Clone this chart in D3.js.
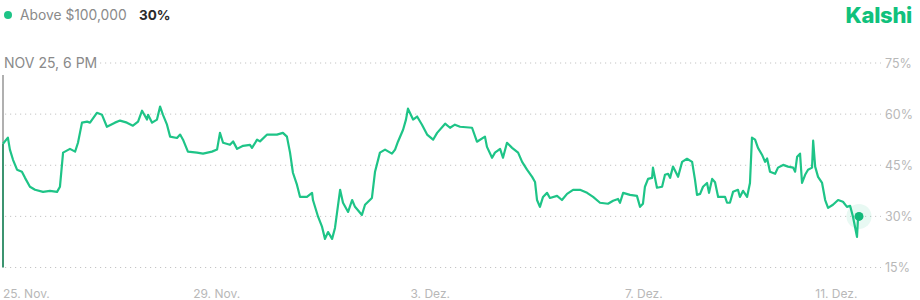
<!DOCTYPE html>
<html>
<head>
<meta charset="utf-8">
<script src="https://cdn.jsdelivr.net/npm/d3@7"></script>
<style>
  body { margin: 0; background: #fff; }
  svg { display: block; font-family: Inter, "Noto Sans", sans-serif; }
</style>
</head>
<body>
<svg id="chart" width="920" height="300"></svg>
<script>
"use strict";

// hours since 25 Nov 2024 00:00 and the price (%) at that time
const hours = [
  0, 2.2, 3.1, 4.5, 6.3, 8.5, 9.9, 12.1, 14.4, 18.0, 21.1, 24.3, 25.6, 27.0, 30.1, 32.4, 33.7, 35.5, 37.8, 39.1,
  42.2, 44.5, 46.7, 50.3, 52.6, 55.7, 58.4, 60.7, 62.5, 64.7, 65.2, 67.0, 69.2, 70.6, 71.9, 73.7, 75.1, 78.2, 79.6, 80.9,
  83.1, 87.2, 89.9, 93.9, 96.2, 97.5, 98.9, 102.0, 103.4, 105.2, 107.9, 111.0, 111.9, 114.2, 115.5, 118.7, 123.1, 125.8, 127.6, 129.0,
  130.3, 132.1, 133.5, 136.6, 138.9, 139.3, 141.6, 143.4, 144.7, 146.1, 147.9, 149.2, 151.5, 152.8, 155.1, 156.9, 158.2, 161.3, 162.7, 165.8,
  167.2, 169.4, 171.7, 174.8, 176.2, 177.5, 179.8, 181.1, 182.0, 184.3, 186.1, 188.3, 190.6, 193.3, 195.1, 198.7, 200.9, 203.1, 205.4, 210.8,
  213.0, 216.6, 217.5, 219.8, 221.1, 223.4, 224.7, 226.5, 228.8, 231.5, 233.3, 235.5, 237.8, 239.1, 240.0, 241.3, 242.7, 244.5, 245.8, 249.0,
  251.2, 253.5, 256.2, 259.3, 262.5, 265.2, 268.3, 271.9, 274.2, 276.4, 277.3, 278.7, 281.8, 284.9, 286.3, 287.6, 288.5, 289.9, 291.7, 292.1,
  293.9, 296.2, 297.5, 298.9, 299.8, 301.1, 303.4, 305.2, 307.4, 309.7, 311.0, 311.9, 313.3, 314.6, 316.4, 317.3, 318.7, 320.0, 321.4, 324.5,
  325.4, 326.7, 328.1, 330.3, 331.2, 332.6, 334.4, 335.7, 336.6, 338.0, 339.3, 341.1, 342.5, 343.4, 344.7, 347.0, 348.3, 350.6, 352.8, 355.1,
  356.0, 356.9, 358.2, 359.1, 360.5, 361.8, 363.6, 364.1, 365.0, 366.3, 368.1, 369.5, 370.8, 373.0, 375.3, 377.5, 379.3, 380.7, 382.0, 383.8,
  384.3, 384.7
];
const values = [
  51.3, 53.1, 49.6, 46.6, 43.7, 43.1, 41.3, 38.7, 37.8, 37.2, 37.5, 37.2, 38.7, 48.7, 49.8, 49.0, 51.6, 57.5, 57.8, 57.5,
  60.4, 59.8, 56.3, 57.5, 58.1, 57.5, 56.6, 57.8, 61.0, 58.4, 59.8, 57.5, 58.4, 62.2, 59.8, 56.9, 53.4, 53.0, 54.0, 52.5,
  49.0, 48.7, 48.4, 49.0, 49.6, 54.5, 51.6, 51.0, 52.0, 49.8, 50.7, 51.0, 50.1, 52.5, 52.0, 54.0, 54.0, 54.5, 53.4, 48.7,
  42.8, 39.3, 35.7, 35.7, 36.9, 34.8, 29.9, 26.9, 23.4, 25.4, 23.4, 26.6, 37.8, 34.0, 31.3, 34.8, 32.8, 30.4, 33.4, 35.4,
  43.1, 48.7, 49.6, 48.4, 49.6, 51.9, 55.4, 58.4, 61.6, 58.4, 59.3, 56.9, 54.0, 52.5, 54.5, 57.2, 56.0, 56.9, 56.3, 56.0,
  51.9, 53.4, 50.4, 47.2, 48.7, 49.8, 47.2, 51.6, 50.1, 48.7, 46.0, 43.7, 41.6, 40.1, 34.8, 32.8, 35.7, 36.9, 35.4, 36.0,
  34.8, 36.6, 37.8, 37.8, 36.9, 35.7, 34.0, 33.7, 34.6, 35.1, 34.0, 36.9, 36.3, 36.0, 32.8, 33.7, 38.7, 41.0, 41.3, 44.3,
  38.4, 38.7, 42.2, 42.5, 41.3, 44.6, 41.6, 46.0, 46.9, 46.0, 40.7, 36.3, 36.6, 38.7, 39.8, 36.9, 41.0, 40.0, 35.7, 35.7,
  34.0, 34.0, 37.2, 37.8, 35.7, 37.5, 35.7, 39.8, 53.1, 52.5, 50.1, 48.1, 46.0, 47.0, 43.1, 42.5, 44.3, 45.1, 44.6, 44.3,
  43.1, 47.5, 48.4, 39.8, 42.2, 43.7, 44.3, 52.2, 44.6, 41.6, 39.8, 34.8, 32.5, 33.4, 34.8, 34.3, 32.8, 33.1, 29.9, 24.0,
  29.9, 30.0
];

const yTicks = [15, 30, 45, 60, 75];
const xTickDates = ["2024-11-25", "2024-11-29", "2024-12-03", "2024-12-07", "2024-12-11"];
const xTickLabels = ["25. Nov.", "29. Nov.", "3. Dez.", "7. Dez.", "11. Dez."];

const seriesName = "Above $100,000";
const currentLabel = "30%";
const hoverLabel = "NOV 25, 6 PM";

const green = "#1ec487";
const start = new Date(2024, 10, 25, 0, 0);

const data = hours.map((h, i) => ({
  date: new Date(start.getTime() + h * 3600 * 1000),
  value: values[i]
}));

const svg = d3.select("#chart");

const x = d3.scaleTime()
  .domain([start, data[data.length - 1].date])
  .range([3, 859]);
const y = d3.scaleLinear()
  .domain([15, 75])
  .range([267.5, 63]);

// header
svg.append("circle")
  .attr("cx", 8).attr("cy", 15).attr("r", 4)
  .attr("fill", green);
svg.append("text")
  .attr("x", 20).attr("y", 20)
  .attr("font-size", 13.8)
  .attr("fill", "#8a8a8a")
  .text(seriesName);
svg.append("text")
  .attr("x", 139).attr("y", 20)
  .attr("font-size", 13.5)
  .attr("font-weight", 700)
  .attr("fill", "#2b2b2b")
  .text(currentLabel);
svg.append("text")
  .attr("x", 912).attr("y", 23)
  .attr("text-anchor", "end")
  .attr("font-size", 22)
  .attr("font-weight", 800)
  .attr("letter-spacing", -0.3)
  .attr("fill", "#10c17c")
  .text("Kalshi");

// grid + y labels
const grid = svg.append("g");
grid.selectAll("line")
  .data(yTicks)
  .enter().append("line")
  .attr("x1", 5).attr("x2", 881)
  .attr("y1", d => y(d)).attr("y2", d => y(d))
  .attr("stroke", "#c4c4c4")
  .attr("stroke-width", 1)
  .attr("stroke-dasharray", "1.2,3.8");
grid.selectAll("text")
  .data(yTicks)
  .enter().append("text")
  .attr("x", 885).attr("y", d => y(d) + 4.5)
  .attr("font-size", 12.5)
  .attr("fill", "#b8b8b8")
  .text(d => d + "%");

// x axis labels
const xTicks = xTickDates.map(s => d3.timeParse("%Y-%m-%d")(s));
svg.append("g").selectAll("text")
  .data(xTicks)
  .enter().append("text")
  .attr("x", d => x(d))
  .attr("y", 298)
  .attr("font-size", 12)
  .attr("fill", "#b8b8b8")
  .attr("text-anchor", (d, i) => i === 0 ? "start" : (i === xTicks.length - 1 ? "end" : "middle"))
  .text((d, i) => xTickLabels[i]);

// hover marker at first point
const first = data[0];
svg.append("line")
  .attr("x1", x(first.date)).attr("x2", x(first.date))
  .attr("y1", 75).attr("y2", y(first.value))
  .attr("stroke", "#b0b0b0").attr("stroke-width", 2);
svg.append("line")
  .attr("x1", x(first.date)).attr("x2", x(first.date))
  .attr("y1", y(first.value)).attr("y2", y(15))
  .attr("stroke", "#3c9470").attr("stroke-width", 2);

const hoverBg = svg.append("rect").attr("fill", "#fff");
const hl = svg.append("text")
  .attr("x", 4).attr("y", 68)
  .attr("font-size", 14)
  .attr("fill", "#8a8a8a")
  .text(hoverLabel);
const bb = hl.node().getBBox();
hoverBg
  .attr("x", bb.x - 1).attr("y", bb.y)
  .attr("width", bb.width + 3).attr("height", bb.height);

// the line
const line = d3.line()
  .x(d => x(d.date))
  .y(d => y(d.value));
svg.append("path")
  .datum(data)
  .attr("d", line)
  .attr("fill", "none")
  .attr("stroke", green)
  .attr("stroke-width", 2.2)
  .attr("stroke-linejoin", "round");

// end point
const last = data[data.length - 1];
svg.append("circle")
  .attr("cx", x(last.date)).attr("cy", y(last.value)).attr("r", 12.5)
  .attr("fill", green).attr("fill-opacity", 0.1);
svg.append("circle")
  .attr("cx", x(last.date)).attr("cy", y(last.value)).attr("r", 4.5)
  .attr("fill", "#12b97a");
</script>
</body>
</html>
